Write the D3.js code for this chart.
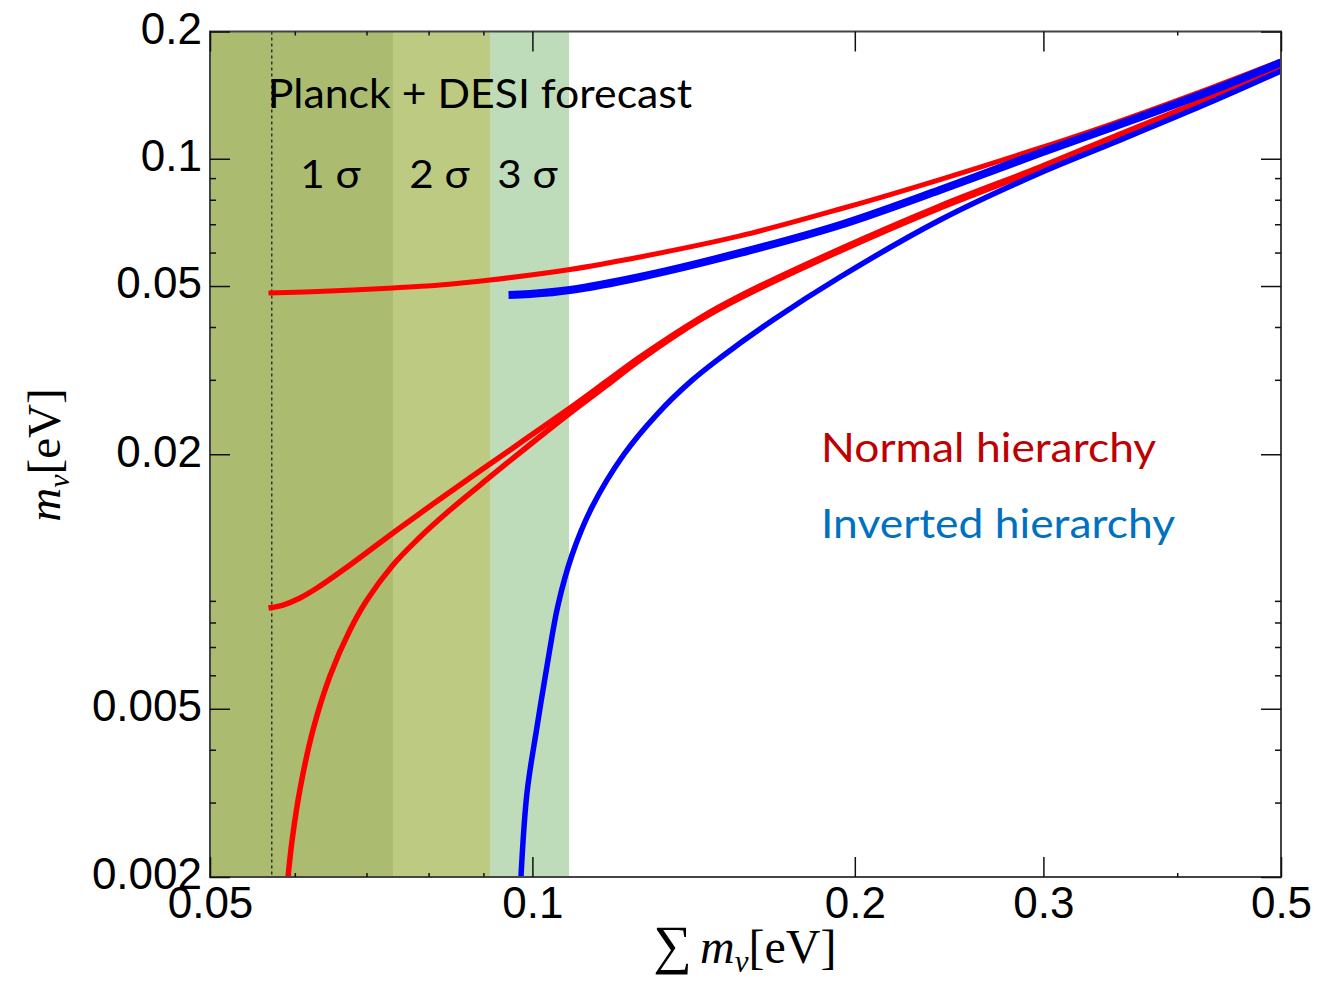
<!DOCTYPE html>
<html>
<head>
<meta charset="utf-8">
<script src="https://cdn.jsdelivr.net/npm/d3@7"></script>
<style>
  body { margin: 0; background: #fff; }
</style>
</head>
<body>
<div id="chart"></div>
<script>
// axis ticks
var xTicksMajor = [0.05, 0.1, 0.2, 0.3, 0.5];
var xTicksMinor = [0.06, 0.07, 0.08, 0.09, 0.4];
var yTicksMajor = [0.2, 0.1, 0.05, 0.02, 0.005, 0.002];
var yTicksMinor = [0.09, 0.08, 0.07, 0.06, 0.04, 0.03, 0.009, 0.008, 0.007, 0.006, 0.004, 0.003];

// Planck + DESI forecast bands (upper edge of the sum, eV)
var bandLabels = ["1 σ", "2 σ", "3 σ"];
var bandUpper = [0.0741, 0.0913, 0.1082];
var bandColors = ["#abbc71", "#bdcb82", "#bedcba"];
var nhMinSum = 0.0571;

// [sum m_nu, m_nu]
var nhM3 = [[0.0567,0.04813],[0.06471,0.04866],[0.07410,0.04946],[0.08198,0.05028],[0.09128,0.05167],
  [0.10843,0.05471],[0.12604,0.05857],[0.15626,0.06568],[0.19376,0.07605],[0.24019,0.08931],
  [0.29780,0.10607],[0.34838,0.12118],[0.43216,0.14781],[0.5,0.17033]];
var nhM2 = [[0.0567,0.008655],[0.05850,0.008798],[0.06068,0.009142],[0.06293,0.009653],[0.06756,0.010942],
  [0.07410,0.013029],[0.08075,0.015251],[0.08687,0.017384],[0.09326,0.019703],[0.09884,0.021851],
  [0.10843,0.025731],[0.11742,0.029805],[0.12604,0.033970],[0.14336,0.042008],[0.15626,0.047354],
  [0.19376,0.06118],[0.24019,0.07734],[0.29780,0.09562],[0.34838,0.11262],[0.43216,0.14076],[0.5,0.16530]];
var nhM1 = [[0.05913,0.00200],[0.05964,0.002433],[0.06068,0.003230],[0.06239,0.004454],[0.06471,0.005978],
  [0.06756,0.007678],[0.07007,0.009041],[0.07410,0.010942],[0.07802,0.012536],[0.08376,0.014761],
  [0.09128,0.017671],[0.09884,0.020805],[0.10843,0.025038],[0.11742,0.029163],[0.12604,0.033417],
  [0.14336,0.041554],[0.15626,0.046841],[0.19376,0.060516],[0.24019,0.07650],[0.29780,0.094584],
  [0.34838,0.111398],[0.43216,0.13924],[0.5,0.16440]];
var ihM12 = [[0.0950,0.04761],[0.09948,0.04787],[0.10843,0.04893],[0.12604,0.05252],[0.15626,0.05986],
  [0.19376,0.06971],[0.24019,0.08436],[0.29780,0.10322],[0.34838,0.11888],[0.43216,0.14541],[0.5,0.16895]];
var ihM3 = [[0.09757,0.00200],[0.09884,0.00316],[0.10099,0.004527],[0.10341,0.006522],[0.10566,0.008798],
  [0.10889,0.011555],[0.11367,0.0150],[0.12177,0.0200],[0.13099,0.0250],[0.14091,0.0299],
  [0.14968,0.033786],[0.16774,0.041554],[0.19376,0.052518],[0.24019,0.071632],[0.29780,0.092542],
  [0.34838,0.108998],[0.43216,0.13697],[0.5,0.16130]];

var curves = [
  {data: nhM3, color: "#ff0000", width: 5},
  {data: nhM2, color: "#ff0000", width: 5.5},
  {data: nhM1, color: "#ff0000", width: 5.5},
  {data: ihM12, color: "#0000ff", width: 8},
  {data: ihM3, color: "#0000ff", width: 5.5}
];

var margin = {top: 31.5, right: 58, bottom: 106, left: 210},
    width = 1339 - margin.left - margin.right,
    height = 983 - margin.top - margin.bottom;

var x = d3.scaleLog().domain([0.05, 0.5]).range([0, width]);
var y = d3.scaleLog().domain([0.002, 0.2]).range([height, 0]);

var svg = d3.select("#chart").append("svg")
    .attr("width", 1339)
    .attr("height", 983)
    .style("background-color", "white")
  .append("g")
    .attr("transform", "translate(" + margin.left + "," + margin.top + ")");

svg.append("clipPath").attr("id", "plot-clip")
  .append("rect").attr("width", width).attr("height", height);

// bands, widest first
var bandIdx = [2, 1, 0];
svg.selectAll(".band")
  .data(bandIdx)
  .enter().append("rect")
    .attr("class", "band")
    .attr("x", 0)
    .attr("y", 0)
    .attr("width", function(i) { return x(bandUpper[i]); })
    .attr("height", height)
    .attr("fill", function(i) { return bandColors[i]; });

// minimum sum for the normal hierarchy
svg.append("line")
  .attr("x1", x(nhMinSum)).attr("x2", x(nhMinSum))
  .attr("y1", 0).attr("y2", height)
  .attr("stroke", "#333")
  .attr("stroke-width", 1.5)
  .attr("stroke-dasharray", "3,3");

var line = d3.line()
  .x(function(d) { return x(d[0]); })
  .y(function(d) { return y(d[1]); })
  .curve(d3.curveCatmullRom.alpha(0.5));

svg.append("g").attr("clip-path", "url(#plot-clip)")
  .selectAll(".curve")
  .data(curves)
  .enter().append("path")
    .attr("class", "curve")
    .attr("d", function(c) { return line(c.data); })
    .attr("fill", "none")
    .attr("stroke", function(c) { return c.color; })
    .attr("stroke-width", function(c) { return c.width; });

// frame
svg.append("rect")
  .attr("width", width).attr("height", height)
  .attr("fill", "none")
  .attr("stroke", "#444")
  .attr("stroke-width", 2);

function noDomain(g) {
  g.select(".domain").remove();
  g.selectAll(".tick line").attr("stroke", "#111").attr("stroke-width", 1.5);
}
var fmt = function(d) { return String(d); };

var xb = svg.append("g").attr("transform", "translate(0," + height + ")")
  .call(d3.axisBottom(x).tickValues(xTicksMajor).tickSize(-20).tickSizeOuter(0).tickPadding(10).tickFormat(fmt))
  .call(noDomain);
svg.append("g").attr("transform", "translate(0," + height + ")")
  .call(d3.axisBottom(x).tickValues(xTicksMinor).tickSize(-4).tickSizeOuter(0).tickFormat(""))
  .call(noDomain);
svg.append("g")
  .call(d3.axisTop(x).tickValues(xTicksMajor).tickSize(-20).tickSizeOuter(0).tickFormat(""))
  .call(noDomain);
svg.append("g")
  .call(d3.axisTop(x).tickValues(xTicksMinor).tickSize(-4).tickSizeOuter(0).tickFormat(""))
  .call(noDomain);

var yl = svg.append("g")
  .call(d3.axisLeft(y).tickValues(yTicksMajor).tickSize(-20).tickSizeOuter(0).tickPadding(8).tickFormat(fmt))
  .call(noDomain);
svg.append("g")
  .call(d3.axisLeft(y).tickValues(yTicksMinor).tickSize(-6).tickSizeOuter(0).tickFormat(""))
  .call(noDomain);
svg.append("g").attr("transform", "translate(" + width + ",0)")
  .call(d3.axisRight(y).tickValues(yTicksMajor).tickSize(-20).tickSizeOuter(0).tickFormat(""))
  .call(noDomain);
svg.append("g").attr("transform", "translate(" + width + ",0)")
  .call(d3.axisRight(y).tickValues(yTicksMinor).tickSize(-6).tickSizeOuter(0).tickFormat(""))
  .call(noDomain);

[xb, yl].forEach(function(g) {
  g.selectAll("text")
    .style("font-family", "'Liberation Sans', Arial, sans-serif")
    .style("font-size", "44px")
    .attr("fill", "#000");
});
yl.selectAll("text").attr("dy", "0.27em");

// annotations (Calibri-like text drawn with Lato, widened a little)
var calibri = "Lato, 'Open Sans', sans-serif";
svg.append("text")
  .attr("transform", "translate(" + (x(nhMinSum) - 4) + "," + (108 - margin.top) + ") scale(1.07,1)")
  .style("font-family", calibri).style("font-size", "40px")
  .text("Planck + DESI forecast");

var bandLo = [nhMinSum, bandUpper[0], bandUpper[1]];
svg.selectAll(".sigma")
  .data(bandLabels)
  .enter().append("text")
    .attr("class", "sigma")
    .attr("transform", function(d, i) {
      return "translate(" + ((x(bandLo[i]) + x(bandUpper[i])) / 2 - 2) + "," + (188 - margin.top) + ") scale(1.08,1)";
    })
    .attr("text-anchor", "middle")
    .style("font-family", calibri).style("font-size", "39px")
    .text(function(d) { return d; });

var legendNames = ["Normal hierarchy", "Inverted hierarchy"];
var legendColors = ["#c00000", "#0070c0"];
svg.selectAll(".legend")
  .data(legendNames)
  .enter().append("text")
    .attr("class", "legend")
    .attr("transform", function(d, i) {
      return "translate(" + (821 - margin.left) + "," + (462 - margin.top + i * 76) + ") scale(1.11,1)";
    })
    .attr("fill", function(d, i) { return legendColors[i]; })
    .style("font-family", calibri).style("font-size", "40px")
    .text(function(d) { return d; });

// axis titles
var serif = "'Liberation Serif', 'DejaVu Serif', serif";
var xt = svg.append("text")
  .attr("transform", "translate(" + (745 - margin.left) + "," + (963 - margin.top) + ")")
  .attr("text-anchor", "middle")
  .style("font-family", serif).style("font-size", "48px");
xt.append("tspan").style("font-size", "54px").text("∑");
xt.append("tspan").attr("dx", 8).style("font-style", "italic").text("m");
xt.append("tspan").attr("dy", 9).style("font-style", "italic").style("font-size", "31px").text("ν");
xt.append("tspan").attr("dy", -9).text("[eV]");

var yt = svg.append("text")
  .attr("transform", "translate(" + (60 - margin.left) + "," + (455 - margin.top) + ") rotate(-90)")
  .attr("text-anchor", "middle")
  .style("font-family", serif).style("font-size", "47px");
yt.append("tspan").style("font-style", "italic").text("m");
yt.append("tspan").attr("dy", 9).style("font-style", "italic").style("font-size", "30px").text("ν");
yt.append("tspan").attr("dy", -9).text("[eV]");
</script>
</body>
</html>
